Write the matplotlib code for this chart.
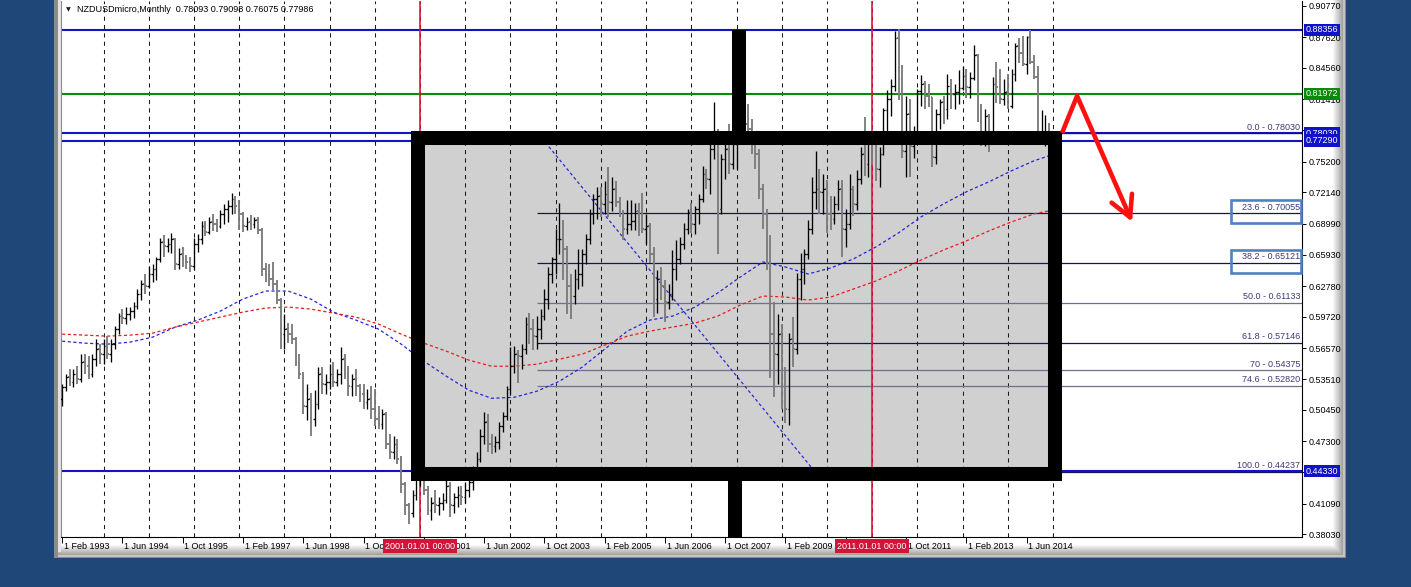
import matplotlib
matplotlib.use("Agg")
import matplotlib.pyplot as plt
from matplotlib.patches import Rectangle
from matplotlib.collections import LineCollection

plt.rcParams['font.family'] = ['Liberation Sans', 'DejaVu Sans']

# ---------------- data ----------------
header_text = "NZDUSDmicro,Monthly  0.78093 0.79098 0.76075 0.77986"
first_open = 0.515  # open of the first bar (Feb 1993); later opens = previous close

# monthly bars, Feb 1993 .. Dec 2014
highs = [
    .530, .540, .545, .545, .548, .560, .560, .558, .560, .575, .570,          # 1993
    .575, .578, .575, .588, .601, .605, .607, .607, .612, .625, .634, .640,    # 1994
    .648, .650, .657, .676, .679, .676, .681, .676, .666, .667, .659, .657,    # 1995
    .676, .680, .693, .693, .697, .700, .695, .704, .710, .714, .721, .718,    # 1996
    .714, .702, .697, .699, .697, .697, .686, .651, .650, .652, .634, .616,    # 1997
    .600, .591, .590, .577, .560, .542, .530, .521, .524, .547, .547, .540,    # 1998
    .550, .552, .545, .567, .560, .548, .540, .545, .530, .530, .525, .528,    # 1999
    .525, .508, .505, .502, .480, .478, .475, .458, .432, .412, .425, .440,    # 2000
    .445, .442, .428, .418, .425, .418, .422, .436, .432, .422, .428, .428,    # 2001
    .432, .436, .448, .462, .485, .502, .500, .480, .478, .492, .502, .528,    # 2002
    .567, .568, .564, .570, .597, .601, .595, .598, .605, .625, .647, .657,    # 2003
    .685, .711, .694, .668, .640, .645, .665, .665, .680, .705, .720, .727,    # 2004
    .727, .733, .747, .737, .733, .717, .704, .714, .714, .711, .711, .721,    # 2005
    .700, .691, .667, .644, .647, .634, .630, .664, .674, .677, .691, .705,    # 2006
    .711, .708, .720, .748, .745, .770, .812, .785, .760, .775, .790, .778,    # 2007
    .790, .815, .810, .810, .795, .775, .765, .730, .705, .679, .612, .600,    # 2008
    .590, .547, .581, .597, .641, .661, .665, .694, .737, .763, .745, .740,    # 2009
    .734, .718, .718, .734, .734, .705, .740, .728, .744, .767, .797, .778,    # 2010
    .783, .775, .767, .806, .824, .835, .882, .884, .849, .818, .815, .788,    # 2011
    .825, .839, .833, .830, .817, .805, .815, .818, .840, .835, .830, .844,    # 2012
    .848, .845, .842, .868, .859, .810, .805, .800, .837, .852, .845, .835,    # 2013
    .840, .845, .870, .875, .877, .877, .8836, .858, .848, .804, .799, .79098, # 2014
]
lows = [
    .508, .523, .528, .527, .530, .532, .540, .535, .537, .548, .550,          # 1993
    .550, .555, .552, .565, .580, .590, .590, .594, .596, .605, .614, .620,    # 1994
    .626, .632, .634, .652, .657, .662, .661, .644, .645, .647, .645, .642,    # 1995
    .645, .662, .670, .678, .680, .683, .682, .686, .690, .692, .700, .700,    # 1996
    .684, .682, .684, .684, .686, .680, .638, .632, .628, .624, .610, .565,    # 1997
    .565, .571, .570, .548, .535, .500, .494, .478, .488, .505, .520, .520,    # 1998
    .525, .527, .528, .530, .535, .518, .518, .518, .512, .505, .505, .495,    # 1999
    .488, .485, .485, .465, .455, .455, .450, .422, .400, .391, .398, .415,    # 2000
    .428, .420, .400, .395, .402, .400, .405, .412, .398, .402, .408, .410,    # 2001
    .412, .418, .425, .438, .452, .470, .462, .460, .462, .465, .482, .494,    # 2002
    .520, .541, .531, .545, .560, .570, .564, .565, .575, .594, .605, .631,    # 2003
    .640, .660, .634, .600, .595, .610, .625, .628, .650, .670, .690, .695,    # 2004
    .697, .700, .697, .703, .707, .697, .674, .680, .684, .684, .678, .681,    # 2005
    .670, .651, .597, .601, .614, .592, .605, .614, .634, .650, .665, .680,    # 2006
    .681, .680, .690, .712, .725, .720, .755, .660, .700, .735, .740, .745,    # 2007
    .745, .770, .770, .775, .760, .745, .715, .685, .644, .536, .517, .530,    # 2008
    .505, .491, .489, .547, .560, .614, .630, .655, .680, .705, .700, .700,    # 2009
    .681, .684, .690, .704, .657, .667, .685, .698, .704, .730, .738, .737,    # 2010
    .750, .733, .727, .759, .779, .798, .823, .814, .756, .737, .737, .756,    # 2011
    .770, .808, .805, .807, .747, .750, .785, .790, .795, .805, .805, .810,    # 2012
    .824, .816, .816, .834, .792, .768, .768, .762, .773, .811, .810, .809,    # 2013
    .805, .806, .833, .851, .848, .840, .850, .835, .779, .770, .768, .76075,  # 2014
]
closes = [
    .527, .537, .532, .540, .535, .552, .548, .540, .555, .565, .560,          # 1993
    .568, .560, .570, .585, .598, .596, .600, .603, .608, .620, .630, .628,    # 1994
    .640, .645, .655, .672, .668, .670, .675, .650, .660, .655, .652, .648,    # 1995
    .670, .675, .688, .682, .692, .690, .688, .700, .705, .708, .715, .708,    # 1996
    .700, .688, .692, .690, .694, .684, .645, .640, .635, .630, .614, .580,    # 1997
    .585, .580, .575, .552, .540, .508, .515, .495, .510, .540, .530, .532,    # 1998
    .540, .532, .540, .555, .540, .528, .535, .528, .520, .512, .515, .505,    # 1999
    .495, .490, .500, .470, .462, .470, .455, .430, .410, .402, .420, .435,    # 2000
    .440, .425, .405, .412, .410, .412, .415, .428, .410, .418, .420, .418,    # 2001
    .425, .432, .442, .455, .478, .492, .470, .468, .472, .488, .498, .525,    # 2002
    .548, .560, .558, .565, .590, .585, .578, .585, .598, .615, .640, .655,    # 2003
    .675, .675, .665, .628, .618, .635, .640, .660, .675, .700, .715, .718,    # 2004
    .710, .720, .712, .725, .712, .700, .685, .690, .693, .703, .690, .685,    # 2005
    .688, .660, .615, .635, .628, .612, .620, .645, .655, .670, .685, .702,    # 2006
    .690, .705, .715, .740, .735, .765, .780, .705, .755, .765, .750, .770,    # 2007
    .785, .805, .790, .785, .770, .760, .725, .700, .665, .580, .560, .580,    # 2008
    .510, .505, .575, .565, .635, .645, .660, .685, .722, .725, .722, .725,    # 2009
    .700, .695, .710, .725, .685, .690, .725, .710, .735, .760, .750, .775,    # 2010
    .770, .745, .760, .804, .815, .828, .875, .835, .763, .800, .768, .775,    # 2011
    .823, .830, .818, .817, .757, .800, .812, .805, .828, .820, .822, .826,    # 2012
    .838, .827, .836, .858, .793, .775, .798, .778, .830, .827, .815, .822,    # 2013
    .808, .840, .867, .860, .850, .876, .852, .837, .780, .780, .7809, .77986, # 2014
]

# moving averages (bar index, value)
ma_idx = [0, 6, 12, 18, 24, 30, 36, 42, 48, 54, 60, 66, 72, 78, 84, 90, 96, 102,
          108, 114, 120, 126, 132, 138, 144, 150, 156, 162, 168, 174, 180, 186,
          192, 198, 204, 210, 216, 222, 228, 234, 240, 246, 252, 258, 262]
ma_blue = [.573, .571, .570, .572, .577, .587, .594, .603, .615, .623, .623, .615,
           .602, .594, .585, .570, .553, .538, .524, .516, .517, .523, .533, .547,
           .565, .583, .594, .598, .607, .621, .637, .652, .647, .640, .646, .655,
           .667, .681, .697, .710, .722, .732, .743, .753, .758]
ma_red = [.580, .579, .578, .579, .581, .587, .592, .597, .602, .606, .607, .605,
          .601, .597, .590, .580, .571, .563, .554, .548, .548, .550, .555, .560,
          .569, .578, .583, .587, .591, .598, .609, .618, .617, .614, .617, .625,
          .633, .643, .654, .664, .673, .683, .692, .700, .703]

# price axis
y_ticks = [0.90770, 0.87620, 0.84560, 0.81410, 0.78350, 0.75200, 0.72140, 0.68990,
           0.65930, 0.62780, 0.59720, 0.56570, 0.53510, 0.50450, 0.47300, 0.44240,
           0.41090, 0.38030]
# time axis labels (bar index of the labelled month)
x_label_idx = [0, 16, 32, 48, 64, 80, 96, 112, 128, 144, 160, 176, 192, 208, 224, 240, 256]
x_labels = ['1 Feb 1993', '1 Jun 1994', '1 Oct 1995', '1 Feb 1997', '1 Jun 1998',
            '1 Oct 1999', '1 Feb 2001', '1 Jun 2002', '1 Oct 2003', '1 Feb 2005',
            '1 Jun 2006', '1 Oct 2007', '1 Feb 2009', '1 Jun 2010', '1 Oct 2011',
            '1 Feb 2013', '1 Jun 2014']
grid_years = list(range(1994, 2016))          # January grid lines
red_vline_idx = [95, 215]
red_vline_labels = ['2001.01.01 00:00', '2011.01.01 00:00']

# horizontal price lines
hline_vals = [0.88356, 0.81972, 0.78030, 0.77290, 0.44330]
hline_cols = ['#1212c8', '#0a8a0a', '#1212c8', '#1212c8', '#1212c8']

# Fibonacci retracement
fib_start_idx = 126.1
fib_pct = ['0.0', '23.6', '38.2', '50.0', '61.8', '70', '74.6', '100.0']
fib_vals = [0.78030, 0.70055, 0.65121, 0.61133, 0.57146, 0.54375, 0.52820, 0.44237]
fib_cols = ['#14145a', '#14145a', '#14145a', '#70708e', '#14145a', '#70708e', '#70708e', '#14145a']

# drawn objects (bar index, price)
box_left, box_right, box_bottom, box_top = 94.5, 263.6, 0.4405, 0.7757
stub_top_x, stub_top_y = 179.7, 0.8836
stub_bot_x = 178.6
trend_pts = [(127.3, 0.7757), (200.3, 0.4405)]
arrow_pts = [(265.4, 0.7807), (269.4, 0.8176), (284.0, 0.6921)]

# ---------------- figure ----------------
W, H, DPI = 1411, 587, 100
fig = plt.figure(figsize=(W / DPI, H / DPI), dpi=DPI)
fig.patch.set_facecolor('#1f4878')


def frect(x0, y0, x1, y1, color, z=-10):
    fig.add_artist(Rectangle((x0 / W, 1 - y1 / H), (x1 - x0) / W, (y1 - y0) / H,
                             transform=fig.transFigure, facecolor=color,
                             edgecolor='none', zorder=z))


# terminal window panel
frect(54, 0, 1346, 558, '#8a8a8a')
frect(55, 0, 1345, 557, '#c4c4c4')
frect(57, 0, 1343, 555, '#ffffff')
nsh = 10
for k in range(nsh):
    g = 1 - 0.36 * (k + 1) / nsh
    frect(1333 + k, 0, 1334 + k, 555 - (nsh - k) // 2, (g, g, g))
    frect(57, 545 + k, 1343 - (nsh - k) // 2, 546 + k, (g, g, g))
frect(55, 0, 58, 557, '#8c8c8c')
frect(58, 0, 61, 552, '#e4e4e4')

ax = fig.add_axes([61 / W, 1 - 537 / H, (1302 - 61) / W, (537 - 1) / H])
ax.set_facecolor('white')
XMIN, XMAX = -0.3, 329.1
YMIN, YMAX = 0.37761, 0.91237
ax.set_xlim(XMIN, XMAX)
ax.set_ylim(YMIN, YMAX)
ax.spines['top'].set_visible(False)
ax.spines['left'].set_color('#8c8c8c')
ax.spines['left'].set_linewidth(0.8)
for s in ('right', 'bottom'):
    ax.spines[s].set_color('black')
    ax.spines[s].set_linewidth(0.8)
ax.yaxis.tick_right()
ax.set_yticks(y_ticks)
ax.set_yticklabels([f'{v:.5f}' for v in y_ticks])
ax.tick_params(axis='y', direction='out', length=3, width=0.7, pad=1.5,
               labelsize=6.5, colors='black')
ax.set_xticks(x_label_idx)
ax.set_xticklabels([])
ax.tick_params(axis='x', direction='out', length=4, width=0.7)

# gray rectangle fill (background object)
ax.add_patch(Rectangle((box_left, box_bottom), box_right - box_left, box_top - box_bottom,
                       facecolor='#d0d0d0', edgecolor='none', zorder=0.5))

# grid
for yr in grid_years:
    gx = (yr - 1993) * 12 - 1
    ax.axvline(gx, color='#1a1a1a', lw=0.75, ls=(0, (4, 4)), zorder=1)

# red vertical lines
for vx in red_vline_idx:
    ax.axvline(vx, color='#e0143c', lw=1.2, zorder=2.2)

# horizontal lines
for v, c in zip(hline_vals, hline_cols):
    ax.axhline(v, color=c, lw=1.5, zorder=2)

# fibonacci
for v, c in zip(fib_vals, fib_cols):
    ax.hlines(v, fib_start_idx, XMAX, colors=c, lw=0.9, zorder=2.1)
for p, v in zip(fib_pct, fib_vals):
    ax.annotate(f'{p} - {v:.5f}', xy=(1, v), xycoords=('axes fraction', 'data'),
                xytext=(-1.2, 1.2), textcoords='offset points', ha='right', va='bottom',
                fontsize=6.5, color='#3c3c7c', zorder=6)

# moving averages and trend line
ax.plot(ma_idx, ma_blue, color='#2424d8', lw=0.9, ls=(0, (2.5, 2)), zorder=2.5)
ax.plot(ma_idx, ma_red, color='#e81c1c', lw=0.9, ls=(0, (2.5, 2)), zorder=2.5)
ax.plot([p[0] for p in trend_pts], [p[1] for p in trend_pts], color='#2a2ad0',
        lw=0.9, ls=(0, (2.5, 2)), zorder=2.5)

# OHLC bars
opens = [first_open] + closes[:-1]
tick = 0.45
up_segs, dn_segs = [], []
for i, (o, h, l, c) in enumerate(zip(opens, highs, lows, closes)):
    segs = [[(i, l), (i, h)], [(i - tick, o), (i, o)], [(i, c), (i + tick, c)]]
    (up_segs if c >= o else dn_segs).extend(segs)
ax.add_collection(LineCollection(dn_segs, colors='#7c7c7c', linewidths=1.35, zorder=3))
ax.add_collection(LineCollection(up_segs, colors='#000000', linewidths=0.95, zorder=3.1))

# black box border and stubs
ax.add_patch(Rectangle((box_left, box_bottom), box_right - box_left, box_top - box_bottom,
                       fill=False, edgecolor='black', lw=10.1, joinstyle='miter', zorder=5))
ax.plot([stub_top_x, stub_top_x], [box_top, stub_top_y], color='black', lw=10.1,
        solid_capstyle='butt', zorder=5)
ax.plot([stub_bot_x, stub_bot_x], [YMIN, box_bottom], color='black', lw=10.1,
        solid_capstyle='butt', zorder=5)

# red arrow
ax.plot([arrow_pts[0][0], arrow_pts[1][0]], [arrow_pts[0][1], arrow_pts[1][1]],
        color='#ff1010', lw=3.3, solid_capstyle='butt', zorder=6)
ax.annotate('', xy=arrow_pts[2], xytext=arrow_pts[1],
            arrowprops=dict(arrowstyle='->,head_length=0.75,head_width=0.4', color='#ff1010',
                            lw=3.3, shrinkA=0, shrinkB=0, mutation_scale=20), zorder=6)

# blue frames around two fib labels
for v in (fib_vals[1], fib_vals[2]):
    ax.add_patch(Rectangle((310.2, v - 0.0100), 18.6, 0.0232, fill=False,
                           edgecolor='#4f81c4', lw=1.9, zorder=6, clip_on=False))

# right side price boxes
for v, c in zip(hline_vals, hline_cols):
    ax.annotate(f'{v:.5f}', xy=(1, v), xycoords=('axes fraction', 'data'),
                xytext=(2.6, 0), textcoords='offset points', ha='left', va='center',
                fontsize=6.5, color='white', zorder=10, annotation_clip=False,
                bbox=dict(boxstyle='square,pad=0.2', fc=c, ec='none'))

# time labels
for xi, lab in zip(x_label_idx, x_labels):
    ax.annotate(lab, xy=(xi, 0), xycoords=('data', 'axes fraction'), xytext=(1.2, -6.6),
                textcoords='offset points', ha='left', va='center', fontsize=6.5,
                color='black', annotation_clip=False, zorder=8)
for xi, lab in zip(red_vline_idx, red_vline_labels):
    ax.annotate(lab, xy=(xi, 0), xycoords=('data', 'axes fraction'), xytext=(0, -6.6),
                textcoords='offset points', ha='center', va='center', fontsize=6.5,
                color='white', annotation_clip=False, zorder=10,
                bbox=dict(boxstyle='square,pad=0.25', fc='#d0143a', ec='none'))

# header
fig.text(66 / W, 1 - 10 / H, '\u25bc', fontsize=4.5, va='center', ha='left',
         family=['DejaVu Sans'], color='#202020')
fig.text(77 / W, 1 - 10 / H, header_text, fontsize=6.5, va='center', ha='left', color='black')

fig.savefig('out.png', dpi=DPI, facecolor=fig.get_facecolor())
